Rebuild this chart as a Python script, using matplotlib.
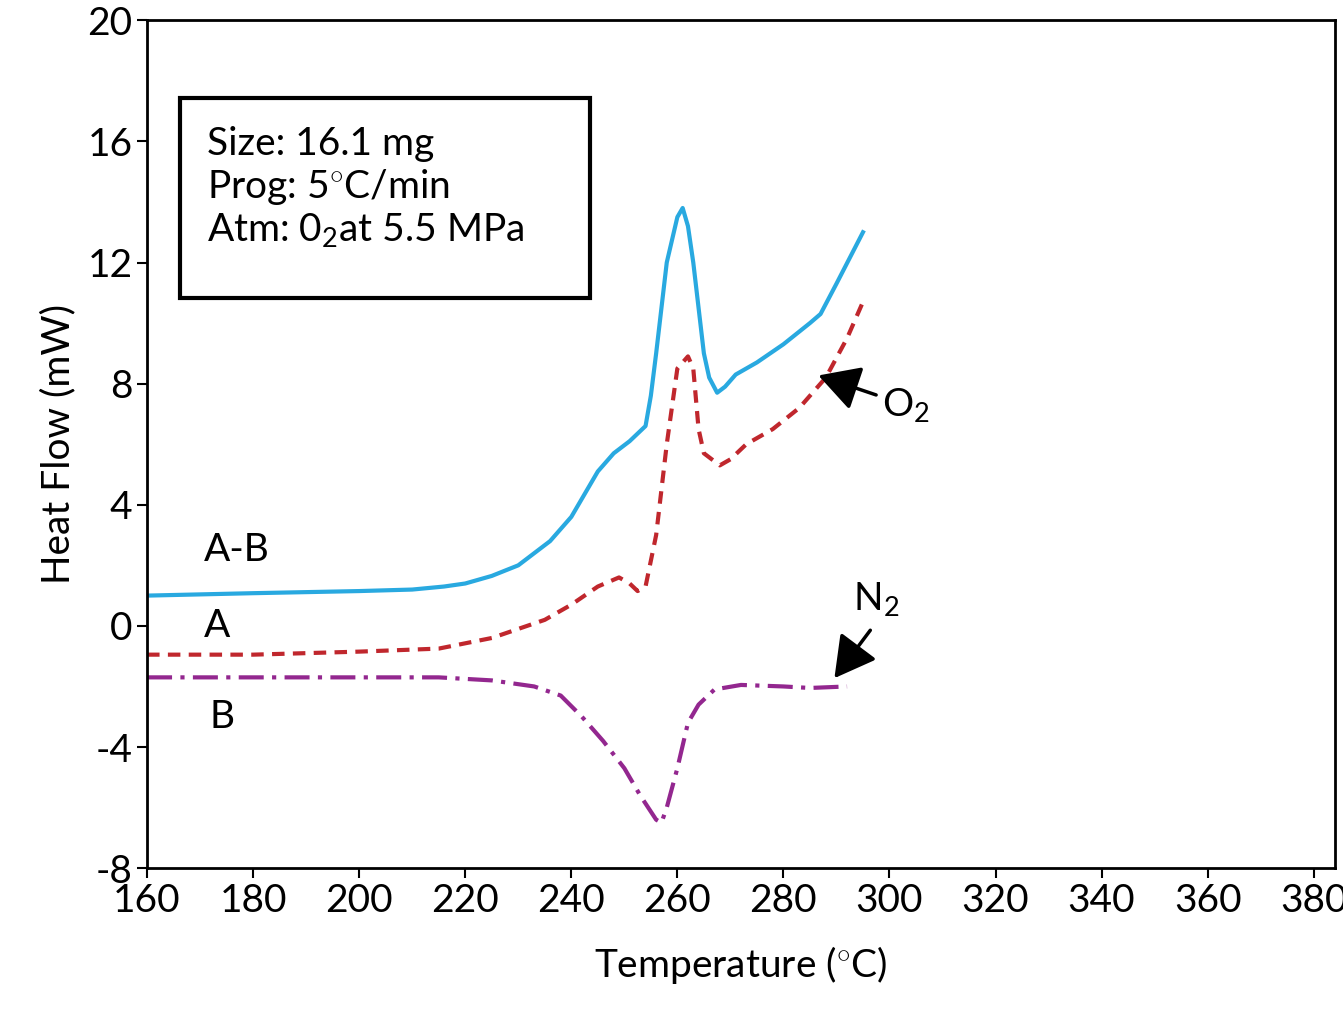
import matplotlib
matplotlib.use("Agg")
import matplotlib.pyplot as plt
from matplotlib.patches import Rectangle

matplotlib.rcParams.update({
    "font.family": "Lato", "font.size": 28, "axes.unicode_minus": False,
    "mathtext.fontset": "custom", "mathtext.rm": "Lato", "mathtext.it": "Lato",
})

# A-B (difference), O2 run (A), N2 run (B)
t_ab = [160, 180, 200, 210, 216, 220, 225, 230, 236, 240, 243, 245, 248, 251, 254, 255, 256, 258, 260,
        261, 262, 263, 264, 265, 266, 267.5, 269, 271, 275, 280, 285, 287, 290, 295]
hf_ab = [1.0, 1.08, 1.15, 1.2, 1.3, 1.4, 1.65, 2.0, 2.8, 3.6, 4.5, 5.1, 5.7, 6.1, 6.6, 7.6, 9.0, 12.0,
         13.5, 13.8, 13.2, 12.0, 10.5, 9.0, 8.2, 7.7, 7.9, 8.3, 8.7, 9.3, 10.0, 10.3, 11.3, 13.0]

t_a = [160, 180, 200, 215, 225, 235, 240, 245, 249, 251, 252.5, 254, 256, 258, 260, 262, 263,
       264, 265, 268, 270, 273, 278, 283, 288, 292, 295]
hf_a = [-0.95, -0.95, -0.85, -0.75, -0.4, 0.2, 0.7, 1.3, 1.6, 1.4, 1.15, 1.3, 3.0, 6.0, 8.5, 8.9, 8.5,
        6.5, 5.7, 5.3, 5.5, 6.0, 6.5, 7.2, 8.2, 9.5, 10.7]

t_b = [160, 190, 215, 225, 233, 238, 242, 246, 250, 253, 256, 257, 258, 260, 262, 264, 267,
       272, 280, 285, 292]
hf_b = [-1.7, -1.7, -1.7, -1.8, -2.0, -2.3, -3.0, -3.8, -4.7, -5.6, -6.4, -6.5, -6.0, -4.7, -3.2,
        -2.6, -2.1, -1.95, -2.0, -2.05, -2.0]

fig = plt.figure(figsize=(13.43, 10.13), dpi=100)
ax = fig.add_axes([0.1095, 0.143, 0.8845, 0.837])

ax.plot(t_ab, hf_ab, color="#29a9e0", lw=3)
ax.plot(t_a, hf_a, color="#c0272d", lw=3, ls=(0, (3, 2)))
ax.plot(t_b, hf_b, color="#93278f", lw=3, ls=(0, (6, 2, 1, 2)))

ax.set_xlim(160, 384)
ax.set_ylim(-8, 20)
ax.set_xticks(range(160, 381, 20))
ax.set_yticks(range(-8, 21, 4))
ax.tick_params(length=7, width=1.5, labelsize=28)
for s in ax.spines.values():
    s.set_linewidth(2)
ax.set_xlabel("Temperature ($^{\\circ}$C)", fontsize=28, labelpad=18)
ax.set_ylabel("Heat Flow (mW)", fontsize=28, labelpad=8)

ax.text(170.7, 2.5, "A-B", fontsize=28, va="center")
ax.text(170.7, 0.0, "A", fontsize=28, va="center")
ax.text(171.7, -3.0, "B", fontsize=28, va="center")

ax.annotate("O$_2$", xy=(286.1, 8.3), xytext=(298.5, 7.3), fontsize=28, va="center",
            arrowprops=dict(arrowstyle="-|>,head_width=0.5,head_length=0.9", color="black", lw=2.5))
ax.annotate("", xy=(289.3, -1.8), xytext=(296.7, -0.07),
            arrowprops=dict(arrowstyle="-|>,head_width=0.5,head_length=0.9", color="black", lw=2.5))
ax.text(297.5, 0.9, "N$_2$", fontsize=28, va="center", ha="center")

fig.patches.append(Rectangle((180 / 1343, 1 - 298 / 1013), 410 / 1343, 200 / 1013,
                             transform=fig.transFigure, fill=False, lw=3, ec="black"))
ax.text(171.3, 16.5, "Size: 16.1 mg\nProg: 5$^{\\circ}$C/min\nAtm: 0$_2$at 5.5 MPa",
        fontsize=28, va="top", linespacing=1.15)

fig.savefig("out.png")
